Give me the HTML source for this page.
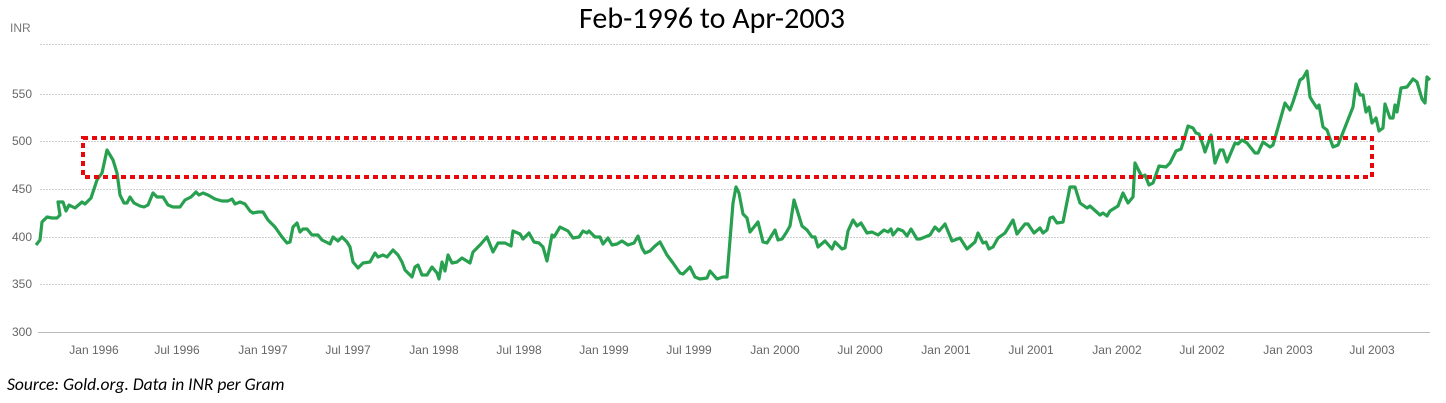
<!DOCTYPE html>
<html><head><meta charset="utf-8"><style>
html,body{margin:0;padding:0;background:#fff;}
svg{display:block;}
</style></head><body>
<svg width="1446" height="403" viewBox="0 0 1446 403" xmlns="http://www.w3.org/2000/svg" font-family="Liberation Sans, sans-serif">
<text x="712" y="28" text-anchor="middle" font-size="30" font-family="Carlito, Liberation Sans, sans-serif" fill="#000">Feb-1996 to Apr-2003</text>
<text x="10" y="32" font-size="12" fill="#777">INR</text>
<g stroke="#cfcfcf" stroke-width="1" stroke-dasharray="2,1">
<line x1="40" y1="44.5" x2="1430" y2="44.5"/>
<line x1="40" y1="94.5" x2="1430" y2="94.5"/>
<line x1="40" y1="141.5" x2="1430" y2="141.5"/>
<line x1="40" y1="189.5" x2="1430" y2="189.5"/>
<line x1="40" y1="237.5" x2="1430" y2="237.5"/>
<line x1="40" y1="284.5" x2="1430" y2="284.5"/>
</g>
<line x1="38" y1="332.5" x2="1430" y2="332.5" stroke="#bbb" stroke-width="1"/>
<g font-size="12" fill="#666" text-anchor="end">
<text x="32" y="98">550</text><text x="32" y="145">500</text><text x="32" y="193">450</text>
<text x="32" y="241">400</text><text x="32" y="288">350</text><text x="32" y="336">300</text>
</g>
<g font-size="12" fill="#666" text-anchor="middle">
<text x="94" y="354">Jan 1996</text><text x="177" y="354">Jul 1996</text><text x="263" y="354">Jan 1997</text>
<text x="348" y="354">Jul 1997</text><text x="434" y="354">Jan 1998</text><text x="519" y="354">Jul 1998</text>
<text x="604" y="354">Jan 1999</text><text x="689" y="354">Jul 1999</text><text x="775" y="354">Jan 2000</text>
<text x="860" y="354">Jul 2000</text><text x="946" y="354">Jan 2001</text><text x="1031" y="354">Jul 2001</text>
<text x="1117" y="354">Jan 2002</text><text x="1202" y="354">Jul 2002</text><text x="1288" y="354">Jan 2003</text>
<text x="1372" y="354">Jul 2003</text>
</g>
<polyline fill="none" stroke="#27a04f" stroke-width="3.2" stroke-linejoin="round" points="36,245 40,240 42,222 47,217 52,218 57,218 60,215 58,202 63,202 66,211 69,205 75,208 82,202 85,204 91,198 97,180 102,173 107,150 113,160 117,173 120,195 124,203 127,203 130,197 134,203 140,206 144,207 148,205 153,193 157,197 163,197 168,205 173,207 180,207 185,200 191,197 196,192 199,195 203,193 208,195 215,199 222,201 228,201 232,199 235,204 240,202 245,204 250,211 253,213 258,212 263,212 268,220 275,227 282,237 287,243 290,242 293,227 297,223 300,232 303,229 307,229 312,235 318,235 322,240 330,244 333,237 338,241 342,237 347,242 350,247 353,262 358,268 363,263 370,262 375,253 378,257 383,255 387,257 393,250 398,255 402,262 405,270 412,277 415,267 418,265 422,275 427,275 432,267 437,273 439,279 442,262 445,271 448,255 452,263 457,262 462,258 470,263 473,252 480,245 487,237 493,252 498,243 505,243 511,246 513,231 520,234 523,239 529,233 534,242 539,243 543,247 547,261 552,235 554,237 560,227 568,231 573,238 579,237 583,231 587,233 589,231 595,237 600,237 603,244 608,238 612,245 617,244 622,241 628,245 634,243 638,236 642,248 645,253 650,251 655,246 660,242 667,255 673,263 680,273 683,274 690,267 695,277 700,279 707,278 710,271 717,279 723,277 727,277 733,203 736,187 739,193 743,214 747,218 750,232 758,222 763,242 767,243 775,230 778,240 782,239 786,233 790,226 794,200 802,226 807,230 812,237 815,237 818,247 825,241 832,249 835,242 842,249 845,248 848,231 853,220 857,226 861,223 867,233 872,232 878,235 884,230 888,232 891,229 893,235 898,229 903,231 907,236 911,229 917,239 920,239 930,235 935,227 939,231 945,224 952,241 960,238 967,249 975,242 978,233 983,243 986,242 989,249 993,247 998,238 1005,233 1013,220 1017,234 1025,224 1028,224 1034,233 1040,228 1043,233 1047,230 1050,218 1053,217 1057,223 1063,222 1070,187 1075,187 1080,203 1087,208 1090,206 1100,215 1103,213 1107,216 1110,211 1118,206 1123,193 1128,203 1133,197 1135,163 1142,177 1145,175 1149,185 1153,183 1159,166 1166,167 1170,163 1176,151 1181,149 1184,140 1188,126 1193,128 1196,133 1199,134 1203,145 1205,152 1211,135 1215,163 1220,150 1223,150 1227,162 1235,143 1238,144 1242,140 1247,143 1255,153 1258,153 1263,142 1270,147 1273,145 1285,103 1290,110 1293,102 1300,80 1303,78 1307,71 1310,97 1313,102 1317,108 1319,105 1323,127 1327,130 1333,147 1338,145 1353,107 1356,84 1360,95 1363,95 1366,112 1369,107 1372,123 1376,118 1379,131 1383,128 1385,104 1390,118 1393,118 1395,105 1397,112 1401,88 1407,87 1413,79 1417,82 1422,99 1425,103 1427,77 1430,80"/>
<rect x="83" y="138" width="1289" height="39" fill="none" stroke="#e8070b" stroke-width="4" stroke-dasharray="5,4"/>
<text x="7" y="390" font-size="17.5" font-style="italic" font-family="Carlito, Liberation Sans, sans-serif" fill="#000">Source: Gold.org. Data in INR per Gram</text>
</svg>
</body></html>
